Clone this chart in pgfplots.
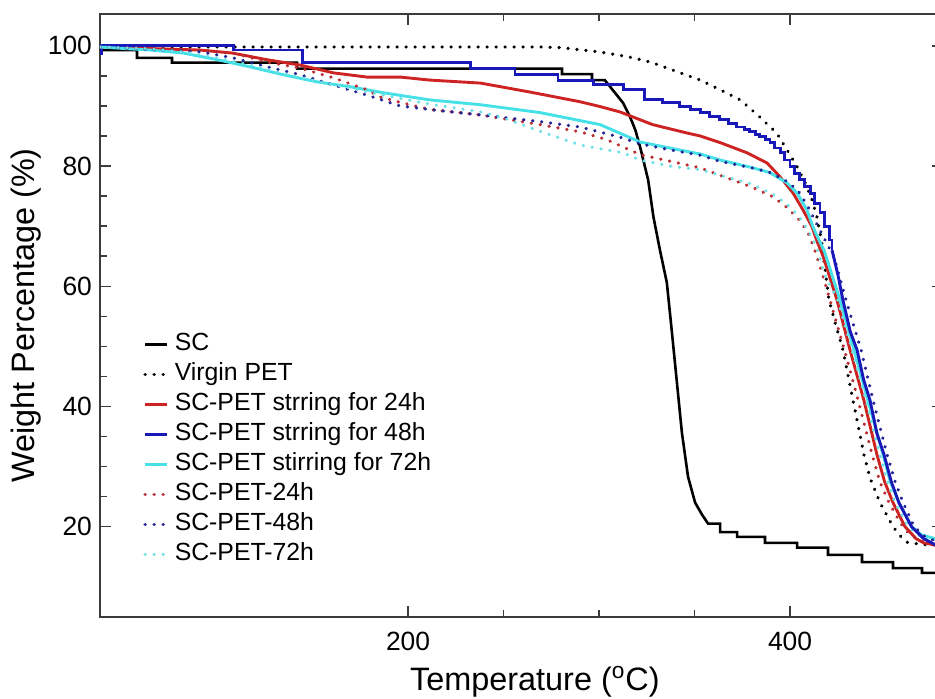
\documentclass[border=0pt]{standalone}
\usepackage{pgfplots}
\pgfplotsset{compat=1.18}
\usepackage{fontspec}
\setmainfont{Liberation Sans}
\definecolor{cRed}{RGB}{205,35,35}
\definecolor{cBlue}{RGB}{25,25,185}
\definecolor{cCyan}{RGB}{70,225,230}
\definecolor{cRedD}{RGB}{185,45,50}
\definecolor{cBlueD}{RGB}{35,35,150}
\definecolor{cCyanD}{RGB}{110,225,230}
\definecolor{axgray}{RGB}{60,60,60}
\begin{document}
\begin{tikzpicture}
\begin{axis}[
  at={(0,0)}, anchor=south west,
  scale only axis,
  width=421.4pt, height=301.4pt,
  xmin=38.7, xmax=480, ymin=5, ymax=105.3,
  xtick={200,400}, ytick={20,40,60,80,100},
  minor x tick num=3, minor y tick num=3,
  tick align=inside,
  major tick length=5.3pt, minor tick length=3.3pt,
  every tick/.style={axgray, line width=0.7pt},
  axis line style={axgray, line width=0.8pt},
  /pgf/number format/assume math mode=true,
  ticklabel style={font=\fontsize{13.2}{15}\selectfont},
  yticklabel style={xshift=-0.5pt},
  xticklabel style={yshift=-4pt},
  xlabel={Temperature (\textsuperscript{o}C)},
  ylabel={Weight Percentage (\%)},
  xlabel style={font=\fontsize{16.2}{19}\selectfont, at={(rel axis cs:0.516,0)}, anchor=base, yshift=-37pt},
  ylabel style={font=\fontsize{16.2}{19}\selectfont, at={(rel axis cs:-0.0878,0.5)}, anchor=center},
  legend cell align=left,
  legend image code/.code={\draw[#1] (0pt,0pt) -- (11pt,0pt);},
  legend style={at={(rel axis cs:0.051,0.472)}, anchor=north west, draw=none, fill=none,
    font=\fontsize{12.4}{14}\selectfont, inner sep=0pt, row sep=3pt, column sep=3pt,
    nodes={inner sep=0pt, text height=9pt, text depth=3pt}},
  every axis plot/.append style={line width=1.45pt},
]
% SC
\addplot[black, line width=1.3pt] coordinates {
(38.7,99.3) (58.1,99.3) (58.1,98.0) (76.4,98.0) (76.4,97.2) (141.9,97.2) (141.9,96.2) (280.6,96.2) (280.6,95.3) (296.3,95.3) (296.3,94.3) (303,94.3) (306.8,92.8) (312.6,90.5) (316.2,88.2) (319,86) (321.5,83.2) (325.7,77.7) (328.5,71.5) (331.9,66) (335.5,60.6) (338.2,52.2) (340.8,43.9) (343.4,35.6) (346.6,28.3) (350.3,24) (353.9,22) (357.1,20.5) (363.4,20.5) (363.4,19.1) (372.3,19.1) (372.3,18.3) (386.9,18.3) (386.9,17.3) (403.7,17.3) (403.7,16.5) (419.9,16.5) (419.9,15.3) (437.7,15.3) (437.7,14.1) (453.9,14.1) (453.9,13.1) (469.1,13.1) (469.1,12.3) (480,12.3)
};
\addlegendentry{SC}
% Virgin PET
\addplot[black, line width=1.7pt, line cap=round, dash pattern=on 0.1pt off 4.4pt] coordinates {
(38.7,99.8) (150,99.8) (270,99.8) (280,99.7) (300,99.0) (315,98.2) (327,97.3) (340,95.8) (353,94.3) (364,92.6) (374,91) (384,88.2) (393,85.5) (398.4,82.7) (403.7,79.9) (407.9,77.2) (411.5,74.4) (414.1,71.5) (416.5,67.5) (420.4,57.7) (424,53.5) (427.7,49.4) (433,41) (438.7,32) (442,28) (447.1,24) (453.9,20) (457.6,18.5) (461.3,17.4) (470,17.0) (480,16.9)
};
\addlegendentry{Virgin PET}
% red solid
\addplot[cRed] coordinates {
(38.7,99.8) (91,99.3) (108,98.8) (126,97.7) (143.5,96.8) (161,95.5) (178.5,94.8) (196,94.8) (211.5,94.3) (238,93.8) (264,92.3) (290,90.7) (300.5,89.9) (311,89) (328,86.9) (346,85.5) (353,85.0) (363.4,83.9) (377.5,82.2) (388,80.5) (394.8,78.2) (401.6,75.5) (406.8,72.7) (411.5,69.9) (414.1,67.5) (417.3,65) (424.6,57.7) (431.4,49.4) (438.7,41) (445.5,32) (449.5,27.5) (453.9,24) (460.2,20) (466,18) (470,17.3) (480,16.7)
};
\addlegendentry{SC-PET strring for 24h}
% blue solid
\addplot[cBlue, const plot] coordinates {
(38.7,98.8) (39.5,100) (108.4,99.3) (144.5,97.3) (232.5,96.2) (256,95.2) (278.5,94.3) (297,93.5) (312.6,92.7) (324,91.0) (333,90.5) (342,89.9) (348,89.4) (353,88.9) (358,88.3) (363,87.7) (368,87.1) (372,86.5) (376,86.1) (379,85.7) (382,85.3) (384,84.9) (387,84.4) (389.5,83.9) (392,83.0) (395,82.2) (397,81.0) (400,79.9) (402.5,78.8) (405,77.7) (407.5,76.6) (410.5,75.5) (413,73.8) (415.7,72.2) (418,70.0) (420.9,67.7) (422,66)
};
\addlegendentry{SC-PET strring for 48h}
% cyan solid
\addplot[cCyan] coordinates {
(38.7,99.8) (64.9,99.3) (82.2,98.8) (100,97.7) (117.3,96.5) (134.6,95.2) (152.4,94) (169.6,93.2) (186.9,92.2) (211.5,91.0) (238,90.2) (269,88.9) (300.5,86.9) (321.5,84) (337,83) (353,82) (363.4,81) (380.6,79.7) (389.5,78.9) (398.4,77.2) (403.7,75.5) (408.9,72.7) (412,69.9) (414.7,68) (417.8,66) (426.2,57.7) (433.5,49.4) (440.8,41) (448.7,32) (452.5,27.5) (457,24) (463.6,20) (469,18.6) (476,18) (480,17.9)
};
\addlegendentry{SC-PET stirring for 72h}
% red dotted
\addplot[cRedD, line width=1.7pt, line cap=round, dash pattern=on 0.1pt off 4.4pt] coordinates {
(38.7,99.8) (91,99.3) (108.4,98.8) (126.2,97.3) (143.5,96.3) (160.7,94.7) (178.5,92.7) (185.3,91.5) (195.8,90.6) (211.5,89.4) (238,88.5) (269,86.9) (290,85.7) (304,84.4) (321.5,81.9) (338.7,80.7) (353,79.7) (363,78.5) (380,76.5) (391,74.9) (398,73.2) (405,71) (409.4,68.9) (413,66) (417,62) (422,56.5) (429.3,48.5) (436.1,40.5) (443,32) (447,27.5) (451.8,24) (458,20.5) (463,18.6) (470,17.5) (480,17.0)
};
\addlegendentry{SC-PET-24h}
% blue dotted
\addplot[cBlueD, line width=1.7pt, line cap=round, dash pattern=on 0.1pt off 4.4pt] coordinates {
(38.7,99.8) (91,99) (108.4,98) (126.2,96.5) (143.5,95.2) (160.7,93.5) (178.5,91.8) (195.8,90) (211.5,89.4) (238,88.5) (269,87.4) (290,86.5) (311,84.8) (321.5,83.7) (337,82.7) (353,81.8) (363,80.8) (380,79.7) (389,79.0) (398,77.5) (404,76) (409,73.5) (413,71) (417,68.5) (423,64.9) (429.3,57.7) (437.2,49.4) (443.5,41) (450.8,32) (455,27.5) (459.2,24) (465,20) (470,18.5) (476,17.6) (480,17.5)
};
\addlegendentry{SC-PET-48h}
% cyan dotted
\addplot[cCyanD, line width=1.7pt, line cap=round, dash pattern=on 0.1pt off 4.4pt] coordinates {
(38.7,99.8) (64.9,99.5) (82.2,99) (100,98) (117.3,96.8) (134.6,95.4) (152.4,94.1) (169.6,93.0) (186.9,91.8) (211.5,90.3) (238,89) (250,88) (269,85.8) (290,83.5) (312.6,82.2) (321.5,81) (338.7,79.9) (353,79.4) (363,78.5) (380,77) (391,75.3) (398,73.8) (405,71.5) (410,69) (414,66.5) (418,62) (425,57.7) (432.5,49.4) (439.8,41) (447,32) (451,27.5) (455,24) (461,20.5) (466,18.8) (472,17.8) (480,17.5)
};
\addlegendentry{SC-PET-72h}
% blue solid, steep part
\addplot[cBlue, forget plot] coordinates {
(422,66) (425,62) (427.7,57.7) (431.5,52.5) (435.1,49.4) (438.5,44.5) (441.9,41) (445.5,35.5) (449.2,32) (453,27.5) (457,24) (463.6,20) (470,18) (476,17) (480,17)
};
\end{axis}
\pgfresetboundingbox
\path[use as bounding box] (-50pt,-41pt) rectangle (417.5pt,308.4pt);
\end{tikzpicture}
\end{document}
